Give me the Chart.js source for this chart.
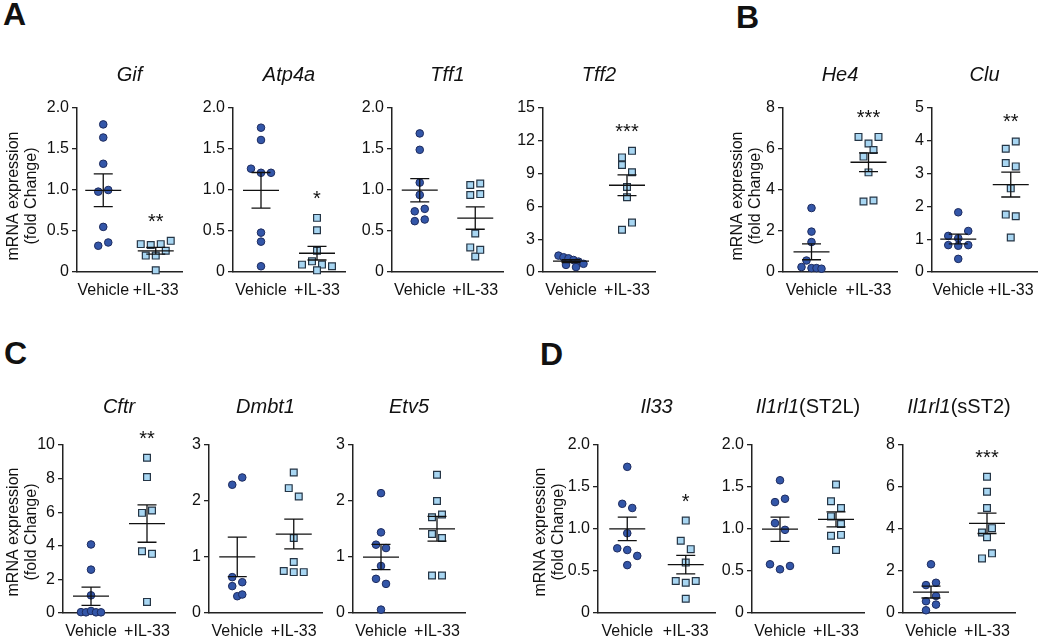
<!DOCTYPE html>
<html lang="en">
  <head>
    <meta charset="UTF-8" />
    <title>IL-33 gene expression</title>
    <style>
      body {
        margin: 0;
        width: 1050px;
        height: 642px;
        position: relative;
        overflow: hidden;
        background: #fff;
        font-family: 'Liberation Sans', Arial, sans-serif;
      }
      .letter {
        position: absolute;
        font-size: 32px;
        line-height: 32px;
        font-weight: bold;
        color: #111;
      }
      canvas {
        position: absolute;
      }
    </style>
  </head>
  <body>
    <div class="letter" style="left: 3px; top: -2px">A</div>
    <div class="letter" style="left: 736px; top: 1px">B</div>
    <div class="letter" style="left: 4px; top: 337px">C</div>
    <div class="letter" style="left: 540px; top: 338px">D</div>

    <script src="https://cdn.jsdelivr.net/npm/chart.js"></script>
    <script>
      const groups = ['Vehicle', '+IL-33'];

      // fold change values, one per mouse
      const gifVehicle = [1.8, 1.64, 1.32, 0.98, 1.0, 0.55, 0.32, 0.36];
      const gifIl33 = [0.34, 0.33, 0.34, 0.38, 0.2, 0.2, 0.26, 0.02];
      const atp4aVehicle = [1.76, 1.61, 1.26, 1.21, 1.21, 0.48, 0.37, 0.07];
      const atp4aIl33 = [0.66, 0.51, 0.26, 0.09, 0.13, 0.09, 0.07, 0.02];
      const tff1Vehicle = [1.69, 1.49, 1.09, 0.94, 0.74, 0.77, 0.62, 0.64];
      const tff1Il33 = [1.06, 1.08, 0.94, 0.95, 0.47, 0.3, 0.19, 0.27];
      const tff2Vehicle = [1.5, 1.35, 1.25, 1.1, 0.95, 0.75, 0.65, 0.45];
      const tff2Il33 = [10.48, 11.08, 9.79, 9.13, 7.78, 6.83, 3.86, 4.52];
      const he4Vehicle = [3.12, 1.97, 1.46, 0.24, 0.56, 0.19, 0.19, 0.16];
      const he4Il33 = [6.59, 6.27, 6.59, 5.63, 5.95, 4.86, 3.44, 3.49];
      const cluVehicle = [1.82, 1.1, 1.03, 1.25, 0.82, 0.8, 0.82, 0.4];
      const cluIl33 = [3.76, 3.98, 3.32, 3.22, 2.55, 1.75, 1.7, 1.05];
      const cftrVehicle = [4.08, 2.58, 1.05, 0.05, 0.04, 0.12, 0.04, 0.04];
      const cftrIl33 = [9.24, 8.09, 5.96, 6.1, 3.68, 3.52, 0.66];
      const dmbt1Vehicle = [2.29, 2.42, 0.64, 0.55, 0.48, 0.3, 0.33];
      const dmbt1Il33 = [2.51, 2.23, 2.08, 1.34, 0.91, 0.75, 0.73, 0.73];
      const etv5Vehicle = [2.14, 1.44, 1.22, 1.16, 0.84, 0.61, 0.52, 0.06];
      const etv5Il33 = [2.47, 2.0, 1.71, 1.76, 1.41, 1.34, 0.67, 0.67];
      const il33Vehicle = [1.74, 1.3, 1.25, 0.95, 0.77, 0.75, 0.68, 0.57];
      const il33Il33 = [1.1, 0.86, 0.76, 0.6, 0.38, 0.36, 0.38, 0.17];
      const st2lVehicle = [1.58, 1.32, 1.36, 1.07, 0.99, 0.58, 0.52, 0.56];
      const st2lIl33 = [1.53, 1.33, 1.25, 1.15, 1.06, 0.92, 0.93, 0.75];
      const sst2Vehicle = [2.32, 1.33, 1.44, 0.56, 0.81, 0.13, 0.4];
      const sst2Il33 = [6.49, 5.77, 5.0, 3.83, 4.04, 3.61, 2.6, 2.84];

      const FONT = "'Liberation Sans', Arial, sans-serif";
      Chart.defaults.font.family = FONT;

      // box = [axis left, axis top, axis right, axis bottom] on the page
      const panels = [
        { title: [['Gif', true]], vehicle: gifVehicle, il33: gifIl33, yMax: 2, yStep: 0.5, digits: 1, stars: '**', box: [77, 108, 182, 272], yLabelX: [14, 32] },
        { title: [['Atp4a', true]], vehicle: atp4aVehicle, il33: atp4aIl33, yMax: 2, yStep: 0.5, digits: 1, stars: '*', box: [233, 108, 345, 272] },
        { title: [['Tff1', true]], vehicle: tff1Vehicle, il33: tff1Il33, yMax: 2, yStep: 0.5, digits: 1, stars: '', box: [392, 108, 503, 272] },
        { title: [['Tff2', true]], vehicle: tff2Vehicle, il33: tff2Il33, yMax: 15, yStep: 3, digits: 0, stars: '***', box: [543, 108, 655, 272] },
        { title: [['He4', true]], vehicle: he4Vehicle, il33: he4Il33, yMax: 8, yStep: 2, digits: 0, stars: '***', box: [783, 108, 897, 272], yLabelX: [738, 756] },
        { title: [['Clu', true]], vehicle: cluVehicle, il33: cluIl33, yMax: 5, yStep: 1, digits: 0, stars: '**', box: [932, 108, 1037, 272] },
        { title: [['Cftr', true]], vehicle: cftrVehicle, il33: cftrIl33, yMax: 10, yStep: 2, digits: 0, stars: '**', box: [63, 445, 175, 613], yLabelX: [14, 32] },
        { title: [['Dmbt1', true]], vehicle: dmbt1Vehicle, il33: dmbt1Il33, yMax: 3, yStep: 1, digits: 0, stars: '', box: [209, 445, 322, 613] },
        { title: [['Etv5', true]], vehicle: etv5Vehicle, il33: etv5Il33, yMax: 3, yStep: 1, digits: 0, stars: '', box: [353, 445, 465, 613] },
        { title: [['Il33', true]], vehicle: il33Vehicle, il33: il33Il33, yMax: 2, yStep: 0.5, digits: 1, stars: '*', box: [598, 445, 715, 613], yLabelX: [541, 559] },
        { title: [['Il1rl1', true], ['(ST2L)', false]], vehicle: st2lVehicle, il33: st2lIl33, yMax: 2, yStep: 0.5, digits: 1, stars: '', box: [752, 445, 864, 613] },
        { title: [['Il1rl1', true], ['(sST2)', false]], vehicle: sst2Vehicle, il33: sst2Il33, yMax: 8, yStep: 2, digits: 0, stars: '***', box: [903, 445, 1015, 613] }
      ];

      const leftW = 75;
      const topPad = 75;
      const rightPad = 14;
      const bottomH = 40;

      function mean(a) {
        return a.reduce((s, v) => s + v, 0) / a.length;
      }
      function sem(a) {
        const m = mean(a);
        const v = a.reduce((s, x) => s + (x - m) * (x - m), 0) / (a.length - 1);
        return Math.sqrt(v / a.length);
      }

      // GraphPad style scatter: points at about the same height share a centred row
      function swarm(values, pxPerUnit) {
        const order = values.map((v, i) => i).sort((a, b) => values[b] - values[a]);
        const rows = [];
        order.forEach(function (i) {
          const last = rows[rows.length - 1];
          if (last && (last.top - values[i]) * pxPerUnit < 8.5) {
            last.items.push(i);
          } else {
            rows.push({ top: values[i], items: [i] });
          }
        });
        const off = values.map(() => 0);
        rows.forEach(function (r) {
          r.items.sort((a, b) => a - b);
          const gap = r.items.length > 4 ? 5 : 10;
          r.items.forEach(function (i, k) {
            off[i] = (k - (r.items.length - 1) / 2) * gap;
          });
        });
        return off;
      }

      const decorations = {
        id: 'decorations',
        afterDatasetsDraw(chart, args, opts) {
          const p = opts.panel;
          const { ctx, chartArea } = chart;
          const x = chart.scales.x;
          const y = chart.scales.y;
          const ox = p.box[0] - leftW;
          const oy = p.box[1] - topPad;
          ctx.save();

          // mean and SEM
          ctx.strokeStyle = '#111';
          ctx.lineWidth = 1.3;
          [p.vehicle, p.il33].forEach(function (vals, i) {
            const m = mean(vals);
            const s = sem(vals);
            const cx = x.getPixelForValue(i + 1);
            const ym = y.getPixelForValue(m);
            const yt = y.getPixelForValue(m + s);
            const yb = y.getPixelForValue(m - s);
            ctx.beginPath();
            ctx.moveTo(cx - 18, ym);
            ctx.lineTo(cx + 18, ym);
            ctx.moveTo(cx - 9.5, yt);
            ctx.lineTo(cx + 9.5, yt);
            ctx.moveTo(cx - 9.5, yb);
            ctx.lineTo(cx + 9.5, yb);
            ctx.moveTo(cx, yt);
            ctx.lineTo(cx, yb);
            ctx.stroke();
          });

          // significance
          ctx.fillStyle = '#111';
          if (p.stars) {
            ctx.font = '20px ' + FONT;
            ctx.textAlign = 'center';
            ctx.textBaseline = 'alphabetic';
            const top = y.getPixelForValue(Math.max(...p.il33));
            ctx.fillText(p.stars, x.getPixelForValue(2), top - 24 + 11);
          }

          // gene name
          const fonts = p.title.map((t) => (t[1] ? 'italic ' : '') + '20px ' + FONT);
          let total = 0;
          p.title.forEach(function (t, i) {
            ctx.font = fonts[i];
            total += ctx.measureText(t[0]).width;
          });
          let tx = (chartArea.left + chartArea.right) / 2 - total / 2;
          const ty = (p.box[1] < 300 ? 81 : 413) - oy;
          ctx.textAlign = 'left';
          ctx.textBaseline = 'alphabetic';
          p.title.forEach(function (t, i) {
            ctx.font = fonts[i];
            ctx.fillText(t[0], tx, ty);
            tx += ctx.measureText(t[0]).width;
          });

          // y axis title
          if (p.yLabelX) {
            const cy = (p.box[1] < 300 ? 196 : 532) - oy;
            ctx.font = '16px ' + FONT;
            ctx.textAlign = 'center';
            ctx.textBaseline = 'middle';
            ['mRNA expression', '(fold Change)'].forEach(function (line, i) {
              ctx.save();
              ctx.translate(p.yLabelX[i] - ox, cy);
              ctx.rotate(-Math.PI / 2);
              ctx.fillText(line, 0, 0);
              ctx.restore();
            });
          }
          ctx.restore();
        }
      };

      panels.forEach(function (p) {
        const [x0, y0, x1, y1] = p.box;
        const plotW = x1 - x0;
        const plotH = y1 - y0;
        const canvas = document.createElement('canvas');
        canvas.width = leftW + plotW + rightPad;
        canvas.height = topPad + plotH + bottomH;
        canvas.style.left = x0 - leftW + 'px';
        canvas.style.top = y0 - topPad + 'px';
        canvas.style.width = canvas.width + 'px';
        canvas.style.height = canvas.height + 'px';
        document.body.appendChild(canvas);

        const pxPerUnit = plotH / p.yMax;
        const xPerPx = 2 / plotW;
        const toPoints = (vals, g) => {
          const off = swarm(vals, pxPerUnit);
          return vals.map((v, i) => ({ x: g + off[i] * xPerPx, y: v }));
        };

        new Chart(canvas, {
          type: 'scatter',
          data: {
            datasets: [
              {
                label: groups[0],
                data: toPoints(p.vehicle, 1),
                pointStyle: 'circle',
                pointRadius: 3.8,
                backgroundColor: '#3356a8',
                borderColor: '#1d2b5e',
                borderWidth: 1,
                clip: false
              },
              {
                label: groups[1],
                data: toPoints(p.il33, 2),
                pointStyle: 'rect',
                pointRadius: 4.8,
                backgroundColor: '#a8d6f2',
                borderColor: '#253545',
                borderWidth: 1.2,
                clip: false
              }
            ]
          },
          options: {
            responsive: false,
            animation: false,
            devicePixelRatio: 1,
            events: [],
            layout: { padding: { top: topPad, right: rightPad, left: 0, bottom: 0 } },
            plugins: {
              legend: { display: false },
              tooltip: { enabled: false },
              decorations: { panel: p }
            },
            scales: {
              x: {
                type: 'linear',
                min: 0.5,
                max: 2.5,
                afterBuildTicks: (s) => {
                  s.ticks = [{ value: 1 }, { value: 2 }];
                },
                afterFit: (s) => {
                  s.height = bottomH;
                },
                ticks: {
                  color: '#111',
                  font: { size: 16 },
                  padding: 1,
                  autoSkip: false,
                  maxRotation: 0,
                  callback: (v) => groups[v - 1]
                },
                grid: { display: false },
                border: { display: true, color: '#222', width: 1.5 }
              },
              y: {
                min: 0,
                max: p.yMax,
                afterFit: (s) => {
                  s.width = leftW;
                },
                ticks: {
                  stepSize: p.yStep,
                  color: '#111',
                  font: { size: 16 },
                  padding: 3,
                  callback: (v) => (v === 0 ? '0' : v.toFixed(p.digits))
                },
                grid: { drawOnChartArea: false, drawTicks: true, tickLength: 5, color: '#222', lineWidth: 1.3 },
                border: { display: true, color: '#222', width: 1.5 }
              }
            }
          },
          plugins: [decorations]
        });
      });
    </script>
  </body>
</html>
